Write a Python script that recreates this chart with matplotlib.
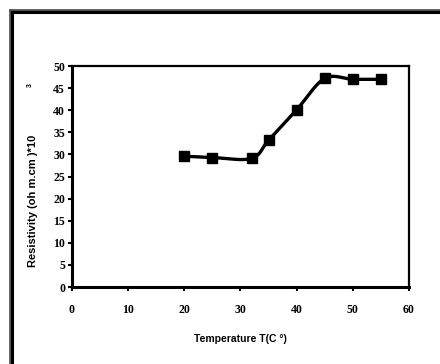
import numpy as np
import matplotlib.pyplot as plt
from matplotlib.lines import Line2D

# Temperature (C) and resistivity (ohm.cm * 10^3)
temperature = [20, 25, 32, 35, 40, 45, 50, 55]
resistivity = [29.6, 29.3, 29.1, 33.2, 40.1, 47.2, 47.0, 47.0]
x_ticks = [0, 10, 20, 30, 40, 50, 60]
y_ticks = [0, 5, 10, 15, 20, 25, 30, 35, 40, 45, 50]


def smooth(xs, ys, n=30):
    # Catmull-Rom style smoothing like Excel's "smoothed line"
    xs = np.asarray(xs, float)
    ys = np.asarray(ys, float)
    px = np.concatenate([[2 * xs[0] - xs[1]], xs, [2 * xs[-1] - xs[-2]]])
    py = np.concatenate([[2 * ys[0] - ys[1]], ys, [2 * ys[-1] - ys[-2]]])
    out_x, out_y = [], []
    t = np.linspace(0, 1, n)
    for i in range(1, len(px) - 2):
        for p, out in ((px, out_x), (py, out_y)):
            p0, p1, p2, p3 = p[i - 1], p[i], p[i + 1], p[i + 2]
            out.extend(0.5 * ((2 * p1) + (-p0 + p2) * t
                              + (2 * p0 - 5 * p1 + 4 * p2 - p3) * t ** 2
                              + (-p0 + 3 * p1 - 3 * p2 + p3) * t ** 3))
    return out_x, out_y


fig = plt.figure(figsize=(4.4, 3.64), dpi=100)
ax = fig.add_axes([0.1636, 0.2115, 0.7659, 0.6071])

sx, sy = smooth(temperature, resistivity)
ax.plot(sx, sy, color='black', lw=2.4, zorder=2)
ax.plot(temperature, resistivity, ls='none', marker='s', ms=7.5,
        color='black', zorder=3, clip_on=False)

ax.set_xlim(0, 60)
ax.set_ylim(0, 50)
ax.set_xticks(x_ticks)
ax.set_yticks(y_ticks)

tick_font = dict(family='Liberation Serif', weight='bold', size=8.5)
ax.set_xticklabels([str(v) for v in x_ticks], **tick_font)
ax.set_yticklabels([str(v) for v in y_ticks], **tick_font)
ax.tick_params(axis='both', direction='out', length=3, width=1.5, color='black')
ax.tick_params(axis='x', pad=9)
ax.tick_params(axis='y', pad=2)

for side in ['left', 'bottom']:
    ax.spines[side].set_linewidth(2.2)
for side in ['top', 'right']:
    ax.spines[side].set_linewidth(1.6)

ax.set_xlabel('Temperature T(C \u00b0)', labelpad=13,
              family='Liberation Sans', weight='bold', size=7.5)
fig.text(0.075, 0.448, 'Resistivity (oh m.cm )*10', rotation=90,
         ha='center', va='center', family='Liberation Sans', weight='bold', size=8)
fig.text(0.07, 0.766, '3', rotation=90, ha='center', va='center',
         family='Liberation Sans', weight='bold', size=5)

# outer frame (left and top edges)
fig.add_artist(Line2D([9.5 / 440, 9.5 / 440], [0, 1 - 9.5 / 364], color='#555555', lw=2))
fig.add_artist(Line2D([11.5 / 440, 11.5 / 440], [0, 1 - 11.5 / 364], color='black', lw=2.2))
fig.add_artist(Line2D([9.5 / 440, 1], [1 - 9.5 / 364, 1 - 9.5 / 364], color='#555555', lw=2))
fig.add_artist(Line2D([11.5 / 440, 1], [1 - 11.5 / 364, 1 - 11.5 / 364], color='black', lw=2.2))

fig.savefig('out.png', dpi=100)
